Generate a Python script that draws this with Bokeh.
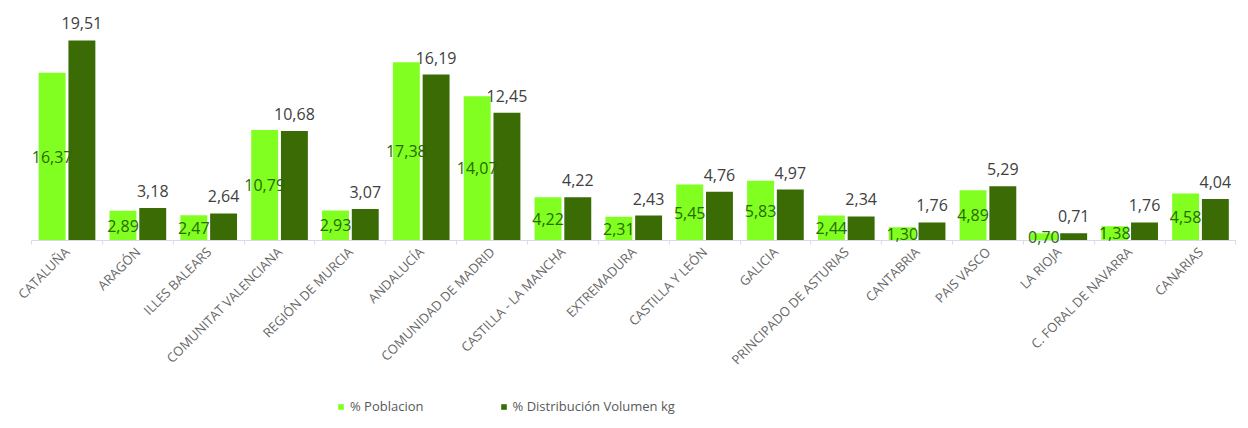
import math
from bokeh.plotting import figure
from bokeh.models import ColumnDataSource, Range1d, FixedTicker, Legend, LegendItem, LabelSet
from bokeh.core.properties import value
from bokeh.transform import dodge
from bokeh.embed import file_html
from bokeh.resources import INLINE

regiones = ["CATALUÑA", "ARAGÓN", "ILLES BALEARS", "COMUNITAT VALENCIANA", "REGIÓN DE MURCIA",
            "ANDALUCÍA", "COMUNIDAD DE MADRID", "CASTILLA - LA MANCHA", "EXTREMADURA",
            "CASTILLA Y LEÓN", "GALICIA", "PRINCIPADO DE ASTURIAS", "CANTABRIA", "PAIS VASCO",
            "LA RIOJA", "C. FORAL DE NAVARRA", "CANARIAS"]
poblacion = [16.37, 2.89, 2.47, 10.79, 2.93, 17.38, 14.07, 4.22, 2.31, 5.45, 5.83, 2.44, 1.30, 4.89, 0.70, 1.38, 4.58]
volumen = [19.51, 3.18, 2.64, 10.68, 3.07, 16.19, 12.45, 4.22, 2.43, 4.76, 4.97, 2.34, 1.76, 5.29, 0.71, 1.76, 4.04]

LIGHT = "#80FF20"
DARK = "#3A6B04"
FONT = "Open Sans"

n = len(regiones)
fmt = lambda v: f"{v:.2f}".replace(".", ",")
src = ColumnDataSource(dict(
    x=list(range(n)),
    pob=poblacion,
    vol=volumen,
    pob_mid=[v / 2 for v in poblacion],
    pob_lbl=[fmt(v) for v in poblacion],
    vol_lbl=[fmt(v) for v in volumen],
))

p = figure(width=1240, height=420, output_backend="svg", toolbar_location=None,
           x_range=Range1d(-0.939, 16.565), y_range=Range1d(-17.56, 22.63),
           min_border_left=0, min_border_right=0, min_border_top=8, min_border_bottom=0)
p.outline_line_color = None
p.xgrid.visible = False
p.ygrid.visible = False
p.yaxis.visible = False

r1 = p.vbar(x=dodge("x", -0.21, range=p.x_range), top="pob", width=0.38, source=src,
            fill_color=LIGHT, line_color=None)
r2 = p.vbar(x=dodge("x", 0.21, range=p.x_range), top="vol", width=0.38, source=src,
            fill_color=DARK, line_color=None)

p.add_layout(LabelSet(x=dodge("x", -0.21, range=p.x_range), y="pob_mid", text="pob_lbl", source=src,
                      text_align="center", text_baseline="middle", text_font=value(FONT),
                      text_font_size="16px", text_color="#2A6A00"))
p.add_layout(LabelSet(x=dodge("x", 0.21, range=p.x_range), y="vol", text="vol_lbl", source=src,
                      text_align="center", text_baseline="bottom", y_offset=11, text_font=value(FONT),
                      text_font_size="16px", text_color="#404040"))

ax = p.xaxis[0]
ax.fixed_location = 0
ax.bounds = (-0.5, n - 0.5)
ax.ticker = FixedTicker(ticks=list(range(n)), minor_ticks=[i - 0.5 for i in range(n + 1)])
ax.major_label_overrides = {i: r for i, r in enumerate(regiones)}
ax.major_label_orientation = math.pi / 4
ax.major_tick_line_color = None
ax.minor_tick_in = 0
ax.minor_tick_out = 4
ax.minor_tick_line_color = "#D9D9EC"
ax.axis_line_color = "#D9D9EC"
ax.major_label_text_color = "#666666"
ax.major_label_text_font = FONT
ax.major_label_text_font_size = "13px"
ax.major_label_standoff = 3

legend = Legend(items=[LegendItem(label="% Poblacion", renderers=[r1]),
                       LegendItem(label="% Distribución Volumen kg", renderers=[r2])],
                orientation="horizontal", location=(337, 5))
legend.border_line_color = None
legend.background_fill_alpha = 0
legend.label_text_font = FONT
legend.label_text_font_size = "13px"
legend.label_text_color = "#595959"
legend.glyph_width = 7
legend.glyph_height = 7
legend.label_standoff = 6
legend.spacing = 76
legend.padding = 3
legend.margin = 0
p.add_layout(legend, "center")

open("out.html", "w").write(file_html(p, INLINE))
